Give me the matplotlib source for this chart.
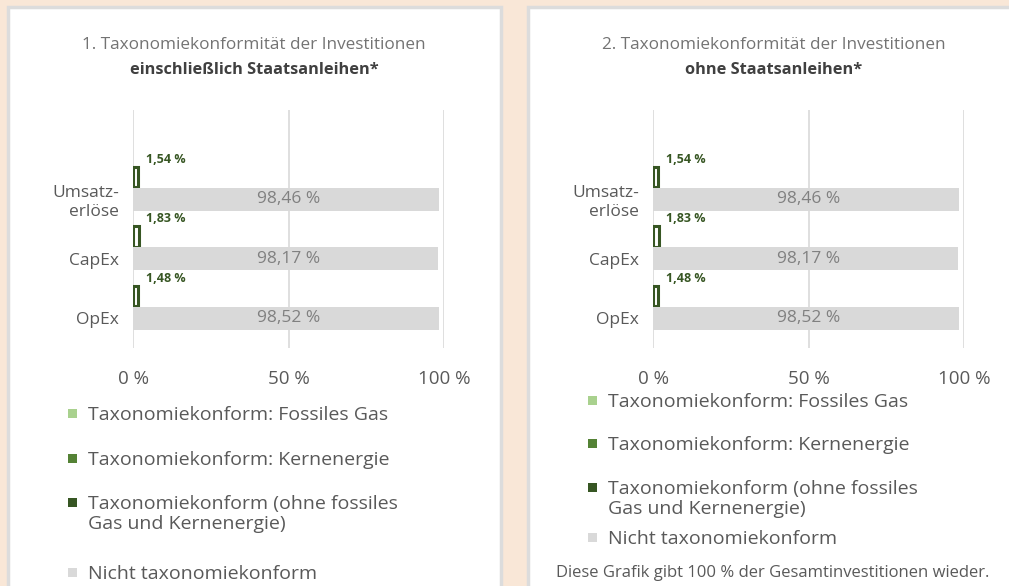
import matplotlib.pyplot as plt
from matplotlib.patches import Rectangle

plt.rcParams['font.family'] = ['Open Sans', 'DejaVu Sans']

# data
categories = ['OpEx', 'CapEx', 'Umsatz-\nerlöse']
gas = [0.0, 0.0, 0.0]
nuclear = [0.0, 0.0, 0.0]
aligned = [1.48, 1.83, 1.54]
not_aligned = [98.52, 98.17, 98.46]

series_names = ['Taxonomiekonform: Fossiles Gas',
                'Taxonomiekonform: Kernenergie',
                'Taxonomiekonform (ohne fossiles\nGas und Kernenergie)',
                'Nicht taxonomiekonform']
colors = ['#A9D18E', '#548235', '#375623', '#D9D9D9']

titles = ['1. Taxonomiekonformität der Investitionen',
          '2. Taxonomiekonformität der Investitionen']
subtitles = ['einschließlich Staatsanleihen*', 'ohne Staatsanleihen*']
footnote = 'Diese Grafik gibt 100 % der Gesamtinvestitionen wieder.'

W, H = 1009, 586
fig = plt.figure(figsize=(W / 100, H / 100), dpi=100)
fig.patch.set_facecolor('#F9E7D7')

txt = '#595959'

def px(x, y):
    return x / W, 1 - y / H

panel_x = [8, 528]
legend_y = [[413, 458, 502, 572], [400, 443, 487, 537]]

for p in range(2):
    off = panel_x[p] - 8
    # white panel
    fig.patches.append(Rectangle(px(panel_x[p], 600), 493 / W, 593 / H,
                                 transform=fig.transFigure, facecolor='white',
                                 edgecolor='#DCDCDC', linewidth=2.5, zorder=-10))
    tx, ty = px(254 + off, 45)
    fig.text(tx, ty, titles[p], ha='center', va='center', fontsize=12.3, color='#737373')
    tx, ty = px(254 + off, 70)
    fig.text(tx, ty, subtitles[p], ha='center', va='center', fontsize=11.8,
             color='#404040', fontweight='bold')

    l, b = px(133 + off, 348)
    ax = fig.add_axes([l, b, 311 / W, 238 / H])
    ax.set_facecolor('none')
    y = list(range(len(categories)))
    yg = [v + 0.375 for v in y]
    ax.barh(yg, gas, height=0.34, color=colors[0])
    ax.barh(yg, nuclear, height=0.34, left=gas, color=colors[1])
    ax.barh(yg, aligned, height=0.34, left=[a + b for a, b in zip(gas, nuclear)],
            facecolor='white', edgecolor=colors[2], linewidth=2.2)
    ax.barh(y, not_aligned, height=0.39, color=colors[3])
    for i in y:
        ax.text(4.3, yg[i] + 0.3, f'{aligned[i]:.2f} %'.replace('.', ','),
                fontsize=9, fontweight='bold', color=colors[2], va='center')
        ax.text(50, y[i], f'{not_aligned[i]:.2f} %'.replace('.', ','),
                fontsize=12.5, color='#808080', ha='center', va='center')
    ax.set_xlim(0, 100)
    ax.set_ylim(-0.5, 3.5)
    ax.set_yticks(y)
    ax.set_yticklabels(categories, fontsize=12.5, color=txt, ha='right')
    ax.set_xticks([0, 50, 100])
    ax.set_xticklabels(['0 %', '50 %', '100 %'], fontsize=13.5, color=txt)
    ax.tick_params(length=0, pad=16, axis='x')
    ax.tick_params(length=0, pad=10, axis='y')
    ax.grid(axis='x', color='#D9D9D9', linewidth=1.2)
    ax.set_axisbelow(True)
    for s in ax.spines.values():
        s.set_visible(False)

    # legend
    for k, name in enumerate(series_names):
        cx, cy = px(72 + off, legend_y[p][k])
        fig.patches.append(Rectangle((cx - 4.5 / W, cy - 4.5 / H), 9 / W, 9 / H,
                                     transform=fig.transFigure, facecolor=colors[k],
                                     edgecolor='none'))
        fig.text(px(88 + off, 0)[0], cy + 7 / H, name, ha='left', va='top',
                 fontsize=14, color=txt, linespacing=1.15)

fx, fy = px(773, 573)
fig.text(fx, fy, footnote, ha='center', va='center', fontsize=12, color=txt)

fig.savefig('out.png', dpi=100, facecolor=fig.get_facecolor())
